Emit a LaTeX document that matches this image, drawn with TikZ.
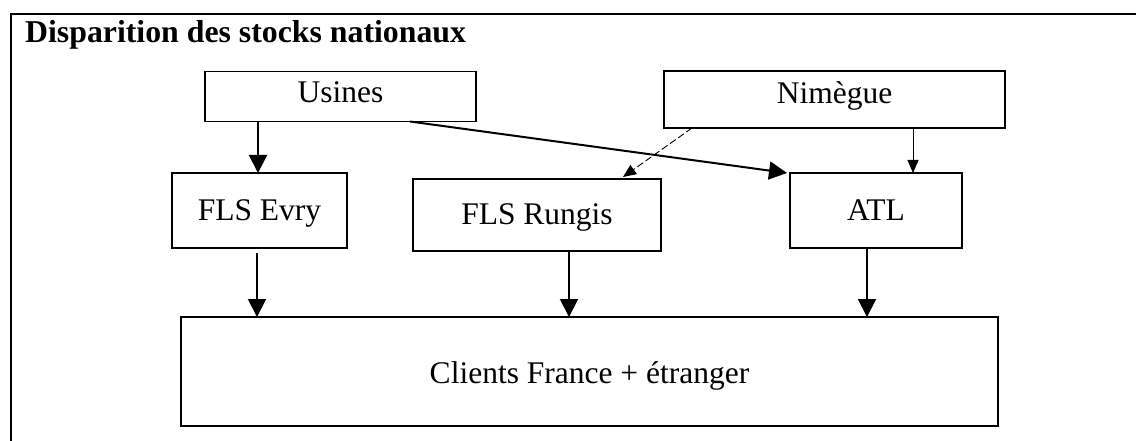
\documentclass[tikz,border=0pt]{standalone}
\usepackage{fontspec}
\setmainfont{Liberation Serif}
\usetikzlibrary{arrows.meta}

\begin{document}
\begin{tikzpicture}[x=1pt,y=-1pt,
  box/.style={draw, line width=1.5pt, inner sep=0pt, outer sep=0pt,
              font=\fontsize{31.5}{34}\selectfont},
  bigarrow/.style={line width=2pt, -{Triangle[length=18pt,width=18pt]}},
  thinarrow/.style={line width=0.9pt, -{Triangle[length=13pt,width=11pt]}},
  dasharrow/.style={thinarrow, dash pattern=on 7pt off 3pt}]
\useasboundingbox (0,0) rectangle (1136,441);

% outer frame (open on the right and at the bottom)
\coordinate (frameR) at (1136,14);
\coordinate (frameC) at (10.5,14);
\coordinate (frameB) at (10.5,441);
\draw[line width=2pt] (frameR) -- (frameC) -- (frameB);

\node[anchor=base west, inner sep=0pt,
      font=\bfseries\fontsize{31.8}{34}\selectfont] (title) at (25,43)
  {Disparition des stocks nationaux};

% boxes
\node[box, minimum width=271pt, text height=30.7pt, text depth=19.3pt]
  (usines) at (340.5,96.5) {Usines};
\node[box, minimum width=341pt, text height=32.3pt, text depth=24.7pt]
  (nimegue) at (834.5,99.5) {Nimègue};
\node[box, line width=1.2pt, minimum width=175pt, text height=48pt, text depth=27pt]
  (evry) at (259.5,210.5) {FLS Evry};
\node[box, line width=1.2pt, minimum width=248pt, text height=46pt, text depth=26pt]
  (rungis) at (537,215) {FLS Rungis};
\node[box, line width=1.2pt, minimum width=172pt, text height=48pt, text depth=27pt]
  (atl) at (876,210.5) {ATL};
\node[box, line width=1.7pt, minimum width=817pt, text height=66pt, text depth=43pt]
  (clients) at (589.5,371.5) {Clients France + étranger};

% flows
\draw[bigarrow] ([xshift=-82.5pt]usines.south) -- ([xshift=-82.5pt]usines.south |- evry.north);
\draw[bigarrow] ([xshift=69.5pt]usines.south) -- ([xshift=-3pt]atl.north west);
\draw[thinarrow] ([xshift=78.5pt]nimegue.south) -- ([xshift=78.5pt]nimegue.south |- atl.north);
\draw[dasharrow] ([xshift=-142.5pt]nimegue.south) -- ([xshift=86pt,yshift=2pt]rungis.north);

\draw[bigarrow, shorten <=4.5pt] ([xshift=-2.5pt]evry.south) -- ([xshift=-2.5pt]evry.south |- clients.north);
\draw[bigarrow] ([xshift=32pt]rungis.south) -- ([xshift=32pt]rungis.south |- clients.north);
\draw[bigarrow] ([xshift=-9pt]atl.south) -- ([xshift=-9pt]atl.south |- clients.north);
\end{tikzpicture}
\end{document}
